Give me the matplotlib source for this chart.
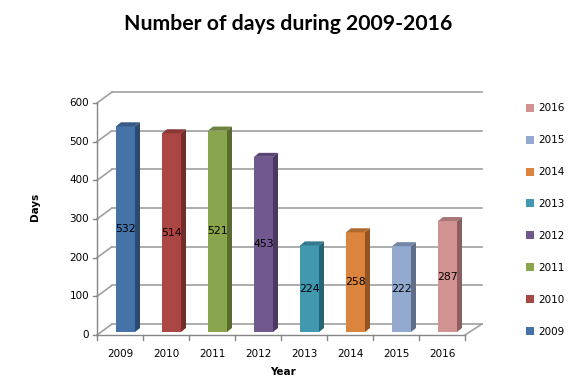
import numpy as np
import matplotlib.pyplot as plt
from matplotlib.patches import Polygon, Patch

# data
years = ['2009', '2010', '2011', '2012', '2013', '2014', '2015', '2016']
days = [532, 514, 521, 453, 224, 258, 222, 287]
front_colors = ['#4572A7', '#AA4643', '#89A54E', '#71588F',
                '#4198AF', '#DB843D', '#93A9CF', '#D19392']
y_ticks = [0, 100, 200, 300, 400, 500, 600]

W, H = 576, 384
fig = plt.figure(figsize=(W / 100, H / 100), dpi=100)
# front plane of the 3d box: x 97..465 px, y 335..103 px
ax = fig.add_axes([97 / W, (H - 335) / H, 368 / W, 232 / H])
ax.set_xlim(0, len(years))
ax.set_ylim(0, 600)
ax.axis('off')

ppx = len(years) / 368.0   # data units per pixel, x
ppy = 600 / 232.0          # data units per pixel, y


def darker(c, f):
    r, g, b = [int(c[i:i + 2], 16) / 255 for i in (1, 3, 5)]
    return (r * f, g * f, b * f)


# depth of the box
DX, DY = 15 * ppx, 11 * ppy
grid_c = '#A0A0A0'
axis_c = '#868686'

# back wall and left wall gridlines
for v in y_ticks:
    ax.plot([DX, len(years) + DX + 2 * ppx], [v + DY, v + DY], color=grid_c, lw=1.2, clip_on=False, zorder=1)
    ax.plot([0, DX], [v, v + DY], color=grid_c, lw=1.2, clip_on=False, zorder=1)
    ax.plot([0, -4 * ppx], [v, v], color=axis_c, lw=1.0, clip_on=False, zorder=1)
    ax.text(-8 * ppx, v, str(v), ha='right', va='center', fontsize=7.5, clip_on=False)

# floor and front axis
ax.plot([0, 0], [0, 600], color=axis_c, lw=1.0, clip_on=False, zorder=1)
ax.plot([0, len(years)], [0, 0], color=axis_c, lw=1.0, clip_on=False, zorder=1)
ax.plot([len(years), len(years) + DX + 2 * ppx], [0, DY], color=grid_c, lw=1.2, clip_on=False, zorder=1)
for i in range(len(years) + 1):
    ax.plot([i, i], [0, -5 * ppy], color=axis_c, lw=1.0, clip_on=False, zorder=1)
for i, y in enumerate(years):
    ax.text(i + 0.5, -19 * ppy, y, ha='center', va='center', fontsize=7.5, clip_on=False)

# bars (front face, side, top)
bw = 19 * ppx
boff = 19 * ppx
FY = 3 * ppy
SX, SY = 5 * ppx, 4 * ppy
for i, (v, c) in enumerate(zip(days, front_colors)):
    x0 = i + boff
    ax.bar(x0, v, width=bw, bottom=FY, align='edge', color=c, zorder=3, clip_on=False)
    side = Polygon([(x0 + bw, FY), (x0 + bw + SX, FY + SY), (x0 + bw + SX, v + FY + SY), (x0 + bw, v + FY)],
                   closed=True, facecolor=darker(c, 0.65), edgecolor='none', zorder=3, clip_on=False)
    top = Polygon([(x0, v + FY), (x0 + SX, v + FY + SY), (x0 + bw + SX, v + FY + SY), (x0 + bw, v + FY)],
                  closed=True, facecolor=darker(c, 0.8), edgecolor='none', zorder=3, clip_on=False)
    ax.add_patch(side)
    ax.add_patch(top)
    ax.text(x0 + bw / 2, v / 2 + FY, str(v), ha='center', va='center', fontsize=7.8, zorder=4, clip_on=False)

# titles
fig.text(288 / W, 1 - 24 / H, 'Number of days during 2009-2016', ha='center', va='center',
         fontsize=15.3, fontweight='bold', family='Lato')
fig.text(283 / W, 1 - 372 / H, 'Year', ha='center', va='center', fontsize=7.5, fontweight='bold')
fig.text(35 / W, 1 - 207 / H, 'Days', ha='center', va='center', rotation=90, fontsize=7.5, fontweight='bold')

# legend (reversed order like excel)
handles = [Patch(facecolor=c, label=y) for y, c in zip(years, front_colors)][::-1]
fig.legend(handles=handles, loc='center left', bbox_to_anchor=(526 / W, 1 - 220 / H), frameon=False,
           fontsize=7.5, handlelength=0.8, handleheight=0.8, handletextpad=0.4, labelspacing=2.1,
           borderpad=0, borderaxespad=0)

fig.savefig('out.png', dpi=100)
